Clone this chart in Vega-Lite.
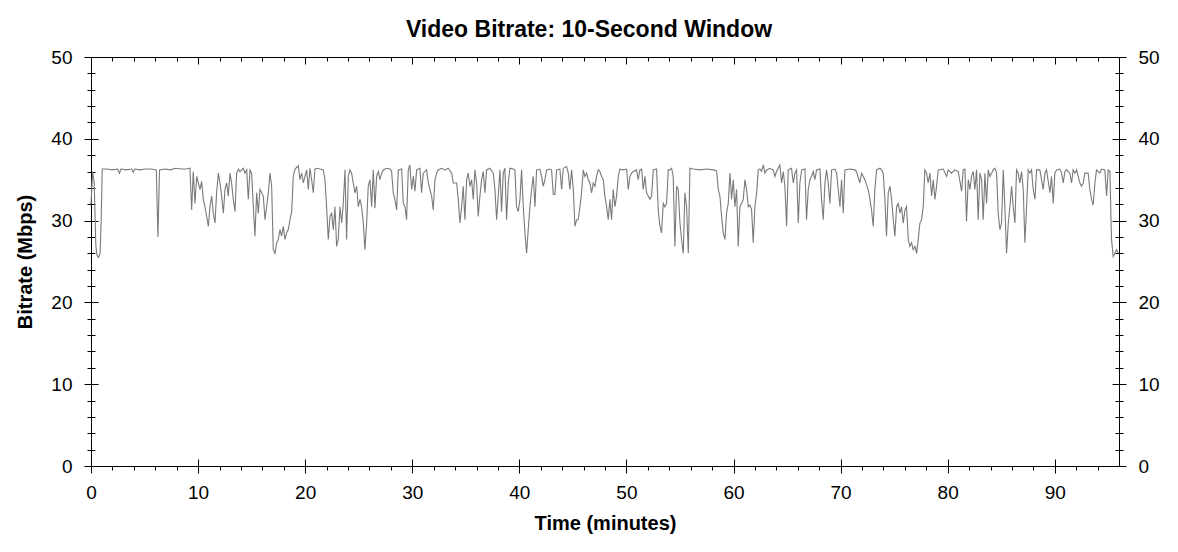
{
"$schema": "https://vega.github.io/schema/vega-lite/v6.json",
"width": 1028, "height": 409,
"autosize": {"type": "none"},
"padding": {"left": 91, "top": 57, "right": 59, "bottom": 86},
"background": "white",
"title": {"text": "Video Bitrate: 10-Second Window", "font": "Liberation Sans", "fontSize": 23, "fontWeight": "bold", "color": "black", "anchor": "middle", "dx": -16, "dy": 34, "offset": 22, "baseline": "alphabetic"},
"config": {
 "view": {"stroke": "black", "strokeWidth": 1},
 "axis": {"grid": false, "domain": false, "tickColor": "black", "tickWidth": 1, "labelFont": "Liberation Sans", "labelFontSize": 19, "labelColor": "black", "labelFlush": false, "labelOverlap": false, "titleFont": "Liberation Sans", "titleFontSize": 20, "titleFontWeight": "bold", "titleColor": "black"}
},
"data": {"values": [
{"t":0,"v":32},{"t":0.15,"v":36},{"t":0.3,"v":34.5},{"t":0.45,"v":27},{"t":0.55,"v":25.8},{"t":0.7,"v":25.5},{"t":0.85,"v":26},{"t":0.95,"v":30},{"t":1.05,"v":36.3},{"t":1.5,"v":36.3},{"t":2,"v":36.2},{"t":2.5,"v":36.3},{"t":2.65,"v":35.8},{"t":2.8,"v":36.3},{"t":3.3,"v":36.2},{"t":3.8,"v":36.3},{"t":3.95,"v":35.9},{"t":4.1,"v":36.3},{"t":4.6,"v":36.2},{"t":5.1,"v":36.3},{"t":5.6,"v":36.3},{"t":6.1,"v":36.2},{"t":6.25,"v":28},{"t":6.4,"v":36.2},{"t":6.9,"v":36.3},{"t":7.4,"v":36.2},{"t":7.9,"v":36.4},{"t":8.4,"v":36.3},{"t":8.9,"v":36.3},{"t":9.24,"v":36.4},
{"t":9.4,"v":31.3},{"t":9.55,"v":36},{"t":9.71,"v":32.1},{"t":9.87,"v":35.4},{"t":10.02,"v":34.6},{"t":10.18,"v":33.8},{"t":10.33,"v":34.8},{"t":10.49,"v":32.6},{"t":10.64,"v":31.7},{"t":10.8,"v":30.5},{"t":10.96,"v":29.3},{"t":11.11,"v":31.7},{"t":11.27,"v":33},{"t":11.42,"v":30.9},{"t":11.58,"v":29.7},{"t":11.73,"v":33.4},{"t":11.89,"v":35.8},{"t":12.05,"v":34.6},{"t":12.2,"v":33},{"t":12.36,"v":30.9},{"t":12.51,"v":33.8},{"t":12.67,"v":34.6},{"t":12.82,"v":33},{"t":12.98,"v":35.8},{"t":13.13,"v":34.6},{"t":13.29,"v":32.6},{"t":13.45,"v":31.1},{"t":13.6,"v":35.8},{"t":13.76,"v":36.3},{"t":13.91,"v":36},{"t":14.22,"v":36.4},{"t":14.38,"v":35.8},{"t":14.54,"v":36.2},{"t":14.69,"v":32.6},{"t":14.85,"v":36.2},{"t":15,"v":35.8},{"t":15.16,"v":31.7},{"t":15.31,"v":28.1},{"t":15.47,"v":33.4},{"t":15.62,"v":30.9},{"t":15.78,"v":33.8},{"t":15.94,"v":33.4},{"t":16.09,"v":33},{"t":16.25,"v":30.1},{"t":16.4,"v":31.7},{"t":16.56,"v":33.4},{"t":16.71,"v":35.8},{"t":16.87,"v":34.2},{"t":17.02,"v":26.45},{"t":17.18,"v":26},{"t":17.34,"v":27.3},{"t":17.49,"v":27.7},{"t":17.65,"v":28.9},{"t":17.8,"v":28.1},{"t":17.96,"v":29.3},{"t":18.11,"v":27.7},{"t":18.27,"v":28.5},{"t":18.42,"v":28.9},{"t":18.58,"v":30.1},{"t":18.74,"v":31.1},{"t":18.89,"v":35.4},{"t":19.05,"v":36.3},{"t":19.36,"v":36.7},{"t":19.51,"v":35},{"t":19.67,"v":35.8},{"t":19.83,"v":34.6},{"t":19.98,"v":35.4},{"t":20.14,"v":36.2},{"t":20.29,"v":33.8},{"t":20.45,"v":36.4},{"t":20.6,"v":35},{"t":20.76,"v":33.4},{"t":20.91,"v":36.3},{"t":21.07,"v":36.4},{"t":21.38,"v":36.3},{"t":21.69,"v":36.2},{"t":21.85,"v":35},{"t":22,"v":31.7},{"t":22.16,"v":27.7},{"t":22.32,"v":30.5},{"t":22.47,"v":30.9},{"t":22.63,"v":28.9},{"t":22.78,"v":31.7},{"t":22.94,"v":26.85},{"t":23.09,"v":27.7},{"t":23.25,"v":31.7},{"t":23.41,"v":29.7},{"t":23.56,"v":32.1},{"t":23.72,"v":36.2},{"t":23.87,"v":27.7},{"t":24.03,"v":35.4},{"t":24.18,"v":36.2},{"t":24.34,"v":35.8},{"t":24.49,"v":34.6},{"t":24.65,"v":33.4},{"t":24.81,"v":34.2},{"t":24.96,"v":31.7},{"t":25.12,"v":32.6},{"t":25.27,"v":31.7},{"t":25.43,"v":29.7},{"t":25.58,"v":26.45},{"t":25.74,"v":29.7},{"t":25.89,"v":34.2},
{"t":26.05,"v":35},{"t":26.21,"v":31.7},{"t":26.36,"v":36.2},{"t":26.52,"v":31.5},{"t":26.67,"v":35.4},{"t":26.83,"v":36},{"t":26.98,"v":35},{"t":27.14,"v":35.8},{"t":27.29,"v":36.2},{"t":27.61,"v":36.4},{"t":27.92,"v":36.3},{"t":28.07,"v":36},{"t":28.23,"v":33.4},{"t":28.38,"v":32.6},{"t":28.54,"v":31.3},{"t":28.7,"v":36.2},{"t":29.01,"v":36.3},{"t":29.16,"v":32.1},{"t":29.32,"v":31.7},{"t":29.47,"v":30.1},{"t":29.63,"v":36.2},{"t":29.78,"v":36.8},{"t":29.94,"v":33.8},{"t":30.1,"v":35.4},{"t":30.25,"v":33.6},{"t":30.41,"v":36.2},{"t":30.72,"v":36.4},{"t":30.87,"v":33.4},{"t":31.03,"v":35.8},{"t":31.34,"v":36.2},{"t":31.5,"v":34.6},{"t":31.65,"v":33.8},{"t":31.81,"v":33},{"t":31.96,"v":31.3},{"t":32.12,"v":35},{"t":32.27,"v":35.8},{"t":32.43,"v":36.2},{"t":32.74,"v":36.4},{"t":33.05,"v":36.2},{"t":33.36,"v":36.4},{"t":33.68,"v":35.8},{"t":33.83,"v":34.6},{"t":34.14,"v":34.6},{"t":34.3,"v":32.6},{"t":34.45,"v":29.7},{"t":34.61,"v":31.7},{"t":34.76,"v":34.2},{"t":34.92,"v":30.1},{"t":35.08,"v":35},{"t":35.23,"v":35.8},{"t":35.39,"v":34.2},{"t":35.54,"v":35},{"t":35.7,"v":32.6},{"t":35.85,"v":36.2},{"t":36.01,"v":34.6},{"t":36.16,"v":30.5},{"t":36.32,"v":33},{"t":36.48,"v":35},{"t":36.63,"v":36},{"t":36.79,"v":33.4},{"t":36.94,"v":36.2},{"t":37.25,"v":36.4},{"t":37.57,"v":35.8},{"t":37.72,"v":33.8},{"t":37.88,"v":30.1},{"t":38.03,"v":33},{"t":38.19,"v":36.2},{"t":38.34,"v":31.1},{"t":38.5,"v":35.8},{"t":38.65,"v":36.4},{"t":38.81,"v":30.1},{"t":38.97,"v":34.6},{"t":39.12,"v":36.4},{"t":39.43,"v":36.3},{"t":39.59,"v":36.2},{"t":39.74,"v":31.7},{"t":39.9,"v":31.1},{"t":40.06,"v":32.6},{"t":40.21,"v":36.2},{"t":40.37,"v":31.7},{"t":40.52,"v":28.5},{"t":40.68,"v":26},{"t":40.83,"v":28.9},{"t":40.99,"v":31.7},{"t":41.14,"v":33.8},{"t":41.3,"v":35.4},{"t":41.46,"v":31.7},{"t":41.61,"v":36.2},{"t":41.92,"v":36.3},{"t":42.08,"v":35.4},{"t":42.23,"v":34.2},{"t":42.39,"v":35},{"t":42.55,"v":36.2},{"t":42.86,"v":36.3},{"t":43.01,"v":36.2},{"t":43.17,"v":33.2},{"t":43.32,"v":33.2},{"t":43.48,"v":36.2},{"t":43.79,"v":36.3},{"t":43.95,"v":33.8},{"t":44.1,"v":36.4},{"t":44.41,"v":36.6},{"t":44.57,"v":35.8},{"t":44.72,"v":33.8},{"t":44.88,"v":36.2},{"t":45.04,"v":33.8},{"t":45.19,"v":29.3},{"t":45.35,"v":30.1},{"t":45.5,"v":30.1},{"t":45.66,"v":31.7},{"t":45.81,"v":33.4},{"t":45.97,"v":36.2},{"t":46.12,"v":35.4},{"t":46.28,"v":35.8},{"t":46.44,"v":35},{"t":46.59,"v":34.6},{"t":46.75,"v":33.4},{"t":46.9,"v":34.6},{"t":47.06,"v":34.2},{"t":47.21,"v":35.4},{"t":47.37,"v":36.2},{"t":47.53,"v":36},{"t":47.68,"v":35.4},{"t":47.84,"v":35},{"t":47.99,"v":33},{"t":48.15,"v":31.7},{"t":48.3,"v":30.1},{"t":48.46,"v":32.6},{"t":48.61,"v":30.1},{"t":48.77,"v":33.8},{"t":48.93,"v":31.7},{"t":49.08,"v":33},{"t":49.24,"v":35.4},{"t":49.39,"v":36.3},{"t":49.7,"v":36.2},{"t":50.02,"v":36.3},{"t":50.17,"v":33.8},{"t":50.33,"v":35.4},{"t":50.48,"v":35.8},{"t":50.64,"v":36},{"t":50.95,"v":36.2},{"t":51.1,"v":35},{"t":51.26,"v":36.2},{"t":51.42,"v":36.3},{"t":51.57,"v":33.8},{"t":51.73,"v":35.4},{"t":51.88,"v":33.4},{"t":52.04,"v":33},{"t":52.19,"v":32.6},{"t":52.35,"v":33},{"t":52.51,"v":36.2},{"t":52.82,"v":36.3},{"t":52.97,"v":31.3},{"t":53.13,"v":29.3},{"t":53.28,"v":28.5},{"t":53.44,"v":32.1},{"t":53.59,"v":31.7},{"t":53.75,"v":32.1},{"t":53.91,"v":36.2},
{"t":54.06,"v":36.2},{"t":54.22,"v":36.4},{"t":54.37,"v":35.4},{"t":54.53,"v":26.85},{"t":54.69,"v":34.2},{"t":54.84,"v":33.8},{"t":55,"v":29.7},{"t":55.15,"v":27.7},{"t":55.31,"v":26},{"t":55.46,"v":33.4},{"t":55.62,"v":31.7},{"t":55.78,"v":26},{"t":55.93,"v":36.4},{"t":56.24,"v":36.3},{"t":56.86,"v":36.2},{"t":57.49,"v":36.3},{"t":58.11,"v":36.2},{"t":58.42,"v":36.1},{"t":58.58,"v":33.8},{"t":58.73,"v":33},{"t":58.89,"v":30.5},{"t":59.04,"v":28.5},{"t":59.2,"v":27.7},{"t":59.35,"v":30.9},{"t":59.51,"v":32.1},{"t":59.67,"v":35.8},{"t":59.82,"v":32.6},{"t":59.98,"v":35},{"t":60.13,"v":31.7},{"t":60.29,"v":33.8},{"t":60.44,"v":26.85},{"t":60.6,"v":31.7},{"t":60.76,"v":32.1},{"t":60.91,"v":32.6},{"t":61.07,"v":35},{"t":61.22,"v":33.8},{"t":61.38,"v":31.7},{"t":61.53,"v":31.9},{"t":61.69,"v":31.3},{"t":61.84,"v":27.3},{"t":62,"v":31.7},{"t":62.16,"v":33.4},{"t":62.31,"v":36.2},{"t":62.47,"v":36.3},{"t":62.62,"v":36},{"t":62.78,"v":36.8},{"t":62.93,"v":35.8},{"t":63.09,"v":36.2},{"t":63.4,"v":36.4},{"t":63.71,"v":36.2},{"t":63.87,"v":35.4},{"t":64.02,"v":36},{"t":64.33,"v":36.8},{"t":64.49,"v":34.6},{"t":64.65,"v":36},{"t":64.8,"v":34.2},{"t":64.96,"v":29.3},{"t":65.11,"v":36.2},{"t":65.42,"v":36.4},{"t":65.58,"v":34.6},{"t":65.73,"v":35.8},{"t":65.89,"v":36.2},{"t":66.05,"v":29.7},{"t":66.2,"v":34.6},{"t":66.36,"v":36.2},{"t":66.67,"v":36.3},{"t":66.82,"v":30.1},{"t":66.98,"v":33.8},{"t":67.14,"v":35},{"t":67.29,"v":35.4},{"t":67.45,"v":36},{"t":67.6,"v":35},{"t":67.76,"v":36.2},{"t":68.07,"v":36.3},{"t":68.22,"v":32.6},{"t":68.38,"v":30.1},{"t":68.54,"v":34.6},{"t":68.69,"v":36.2},{"t":68.85,"v":34.6},{"t":69,"v":32.1},{"t":69.16,"v":36.2},{"t":69.47,"v":36.3},{"t":69.63,"v":35.8},{"t":69.78,"v":33.8},{"t":69.94,"v":31.7},{"t":70.09,"v":35},{"t":70.25,"v":30.9},{"t":70.4,"v":36.2},{"t":70.87,"v":36.3},{"t":71.34,"v":36.2},{"t":71.49,"v":36},{"t":71.8,"v":34.6},{"t":71.96,"v":35.8},{"t":72.27,"v":35},{"t":72.58,"v":33.8},{"t":72.74,"v":32.6},{"t":72.89,"v":31.3},{"t":73.05,"v":29.3},{"t":73.2,"v":33.8},{"t":73.36,"v":36.2},{"t":73.67,"v":36.4},{"t":73.83,"v":36.2},{"t":73.98,"v":35.8},{"t":74.14,"v":32.6},{"t":74.29,"v":28.1},{"t":74.45,"v":33.4},{"t":74.61,"v":34.2},{"t":74.76,"v":32.6},{"t":74.92,"v":30.1},{"t":75.07,"v":28.1},{"t":75.23,"v":31.7},{"t":75.38,"v":32.1},{"t":75.54,"v":30.9},{"t":75.69,"v":31.7},{"t":75.85,"v":29.7},{"t":76.01,"v":31.3},{"t":76.16,"v":31.7},{"t":76.32,"v":27.7},{"t":76.47,"v":26.85},{"t":76.63,"v":27.3},{"t":76.78,"v":26.45},{"t":76.94,"v":26.85},{"t":77.1,"v":26},{"t":77.25,"v":27.7},{"t":77.41,"v":29.7},{"t":77.56,"v":30.1},{"t":77.72,"v":31.7},{"t":77.87,"v":36.2},{"t":78.03,"v":35.8},{"t":78.18,"v":34.6},{"t":78.34,"v":35.8},{"t":78.5,"v":33},{"t":78.65,"v":35},{"t":78.81,"v":32.6},{"t":78.96,"v":34.2},{"t":79.12,"v":36.2},{"t":79.59,"v":36.3},{"t":79.9,"v":35.4},{"t":80.05,"v":36.2},{"t":80.36,"v":35.8},{"t":80.67,"v":36.2},{"t":80.99,"v":36},
{"t":81.3,"v":33.6},{"t":81.45,"v":36.2},{"t":81.61,"v":36.3},{"t":81.76,"v":29.9},{"t":81.92,"v":35},{"t":82.08,"v":33.8},{"t":82.23,"v":35.4},{"t":82.39,"v":36},{"t":82.54,"v":33.8},{"t":82.7,"v":36.2},{"t":82.85,"v":30.1},{"t":83.01,"v":35.8},{"t":83.17,"v":35},{"t":83.32,"v":30.1},{"t":83.48,"v":35.8},{"t":83.63,"v":32.1},{"t":83.79,"v":36.2},{"t":83.94,"v":35.4},{"t":84.1,"v":35.8},{"t":84.25,"v":36.2},{"t":84.41,"v":36.4},{"t":84.57,"v":35.8},{"t":84.72,"v":30.9},{"t":84.88,"v":28.9},{"t":85.03,"v":29.7},{"t":85.19,"v":36.2},{"t":85.34,"v":31.7},{"t":85.5,"v":26},{"t":85.66,"v":29.7},{"t":85.81,"v":31.7},{"t":85.97,"v":34.2},{"t":86.12,"v":31.7},{"t":86.28,"v":29.7},{"t":86.43,"v":36.2},{"t":86.59,"v":35.8},{"t":86.74,"v":34.6},{"t":86.9,"v":36},{"t":87.06,"v":33.8},{"t":87.21,"v":27.3},{"t":87.37,"v":31.7},{"t":87.52,"v":36.2},{"t":87.68,"v":35.8},{"t":87.83,"v":36.2},{"t":87.99,"v":33.8},{"t":88.15,"v":32.6},{"t":88.3,"v":36.2},{"t":88.61,"v":36.2},{"t":88.77,"v":35},{"t":88.92,"v":33.8},{"t":89.08,"v":35.8},{"t":89.23,"v":36.2},{"t":89.55,"v":33.4},{"t":89.7,"v":35.4},{"t":89.86,"v":32.1},{"t":90.01,"v":35.8},{"t":90.17,"v":36.2},{"t":90.48,"v":36.3},{"t":90.64,"v":35.8},{"t":90.79,"v":34.6},{"t":90.95,"v":36},{"t":91.1,"v":36.2},{"t":91.41,"v":35.8},{"t":91.57,"v":34.6},{"t":91.72,"v":36.2},{"t":91.88,"v":35.8},{"t":92.04,"v":36.2},{"t":92.19,"v":35.4},{"t":92.35,"v":34.6},{"t":92.5,"v":34.2},{"t":92.66,"v":34.6},{"t":92.81,"v":35.8},{"t":93.12,"v":35.8},{"t":93.28,"v":33.8},{"t":93.44,"v":32.6},{"t":93.59,"v":31.9},{"t":93.75,"v":34.6},{"t":93.9,"v":36.2},{"t":94.21,"v":35.8},{"t":94.37,"v":36.3},{"t":94.68,"v":36.2},{"t":94.84,"v":33},{"t":94.99,"v":36.2},{"t":95.15,"v":36},{"t":95.3,"v":27.7},{"t":95.46,"v":25.6},{"t":95.61,"v":26},{"t":95.77,"v":26.45},{"t":95.92,"v":26}
]},
"layer": [
 {"mark": {"type": "line", "stroke": "#7a7a7a", "strokeWidth": 1.1, "interpolate": "linear"},
  "encoding": {
   "x": {"field": "t", "type": "quantitative", "scale": {"domain": [0, 96], "nice": false, "zero": false},
         "axis": {"orient": "bottom", "values": [0,10,20,30,40,50,60,70,80,90], "tickSize": 7, "labelPadding": 10, "title": "Time (minutes)", "titlePadding": 11}},
   "y": {"field": "v", "type": "quantitative", "scale": {"domain": [0, 50], "nice": false, "zero": true},
         "axis": {"orient": "left", "values": [0,10,20,30,40,50], "tickSize": 7, "labelPadding": 12, "title": "Bitrate (Mbps)", "titlePadding": 15}}
  }},
 {"mark": {"type": "line", "strokeOpacity": 0},
  "encoding": {
   "x": {"field": "t", "type": "quantitative", "scale": {"domain": [0, 96], "nice": false, "zero": false},
         "axis": {"orient": "bottom", "values": [0,10,20,30,40,50,60,70,80,90], "tickSize": 7, "offset": -7, "labels": false, "title": null}},
   "y": {"field": "v", "type": "quantitative", "scale": {"domain": [0, 50], "nice": false, "zero": true},
         "axis": {"orient": "left", "values": [0,10,20,30,40,50], "tickSize": 7, "offset": -7, "labels": false, "title": null}}
  }},
 {"mark": {"type": "line", "strokeOpacity": 0},
  "encoding": {
   "x": {"field": "t", "type": "quantitative", "scale": {"domain": [0, 96], "nice": false, "zero": false},
         "axis": {"orient": "bottom", "values": [2,4,6,8,12,14,16,18,22,24,26,28,32,34,36,38,42,44,46,48,52,54,56,58,62,64,66,68,72,74,76,78,82,84,86,88,92,94], "tickSize": 4, "labels": false, "title": null}},
   "y": {"field": "v", "type": "quantitative", "scale": {"domain": [0, 50], "nice": false, "zero": true},
         "axis": {"orient": "left", "values": [2,4,6,8,12,14,16,18,22,24,26,28,32,34,36,38,42,44,46,48], "tickSize": 8, "offset": -4, "labels": false, "title": null}}
  }},
 {"mark": {"type": "line", "strokeOpacity": 0},
  "encoding": {
   "x": {"field": "t", "type": "quantitative", "scale": {"domain": [0, 96], "nice": false, "zero": false},
         "axis": {"orient": "top", "values": [0,10,20,30,40,50,60,70,80,90], "tickSize": 7, "offset": -7, "labels": false, "title": null}},
   "y": {"field": "v", "type": "quantitative", "scale": {"domain": [0, 50], "nice": false, "zero": true},
         "axis": {"orient": "right", "values": [0,10,20,30,40,50], "tickSize": 7, "labelPadding": 12, "title": null}}
  }},
 {"mark": {"type": "line", "strokeOpacity": 0},
  "encoding": {
   "x": {"field": "t", "type": "quantitative", "scale": {"domain": [0, 96], "nice": false, "zero": false},
         "axis": {"orient": "top", "values": [2,4,6,8,12,14,16,18,22,24,26,28,32,34,36,38,42,44,46,48,52,54,56,58,62,64,66,68,72,74,76,78,82,84,86,88,92,94], "tickSize": 4, "offset": -4, "labels": false, "title": null}},
   "y": {"field": "v", "type": "quantitative", "scale": {"domain": [0, 50], "nice": false, "zero": true},
         "axis": {"orient": "right", "values": [0,10,20,30,40,50], "tickSize": 7, "offset": -7, "labels": false, "title": null}}
  }},
 {"mark": {"type": "line", "strokeOpacity": 0},
  "encoding": {
   "x": {"field": "t", "type": "quantitative", "scale": {"domain": [0, 96], "nice": false, "zero": false}, "axis": null},
   "y": {"field": "v", "type": "quantitative", "scale": {"domain": [0, 50], "nice": false, "zero": true},
         "axis": {"orient": "right", "values": [2,4,6,8,12,14,16,18,22,24,26,28,32,34,36,38,42,44,46,48], "tickSize": 8, "offset": -4, "labels": false, "title": null}}
  }}
],
"resolve": {"axis": {"x": "independent", "y": "independent"}}
}
